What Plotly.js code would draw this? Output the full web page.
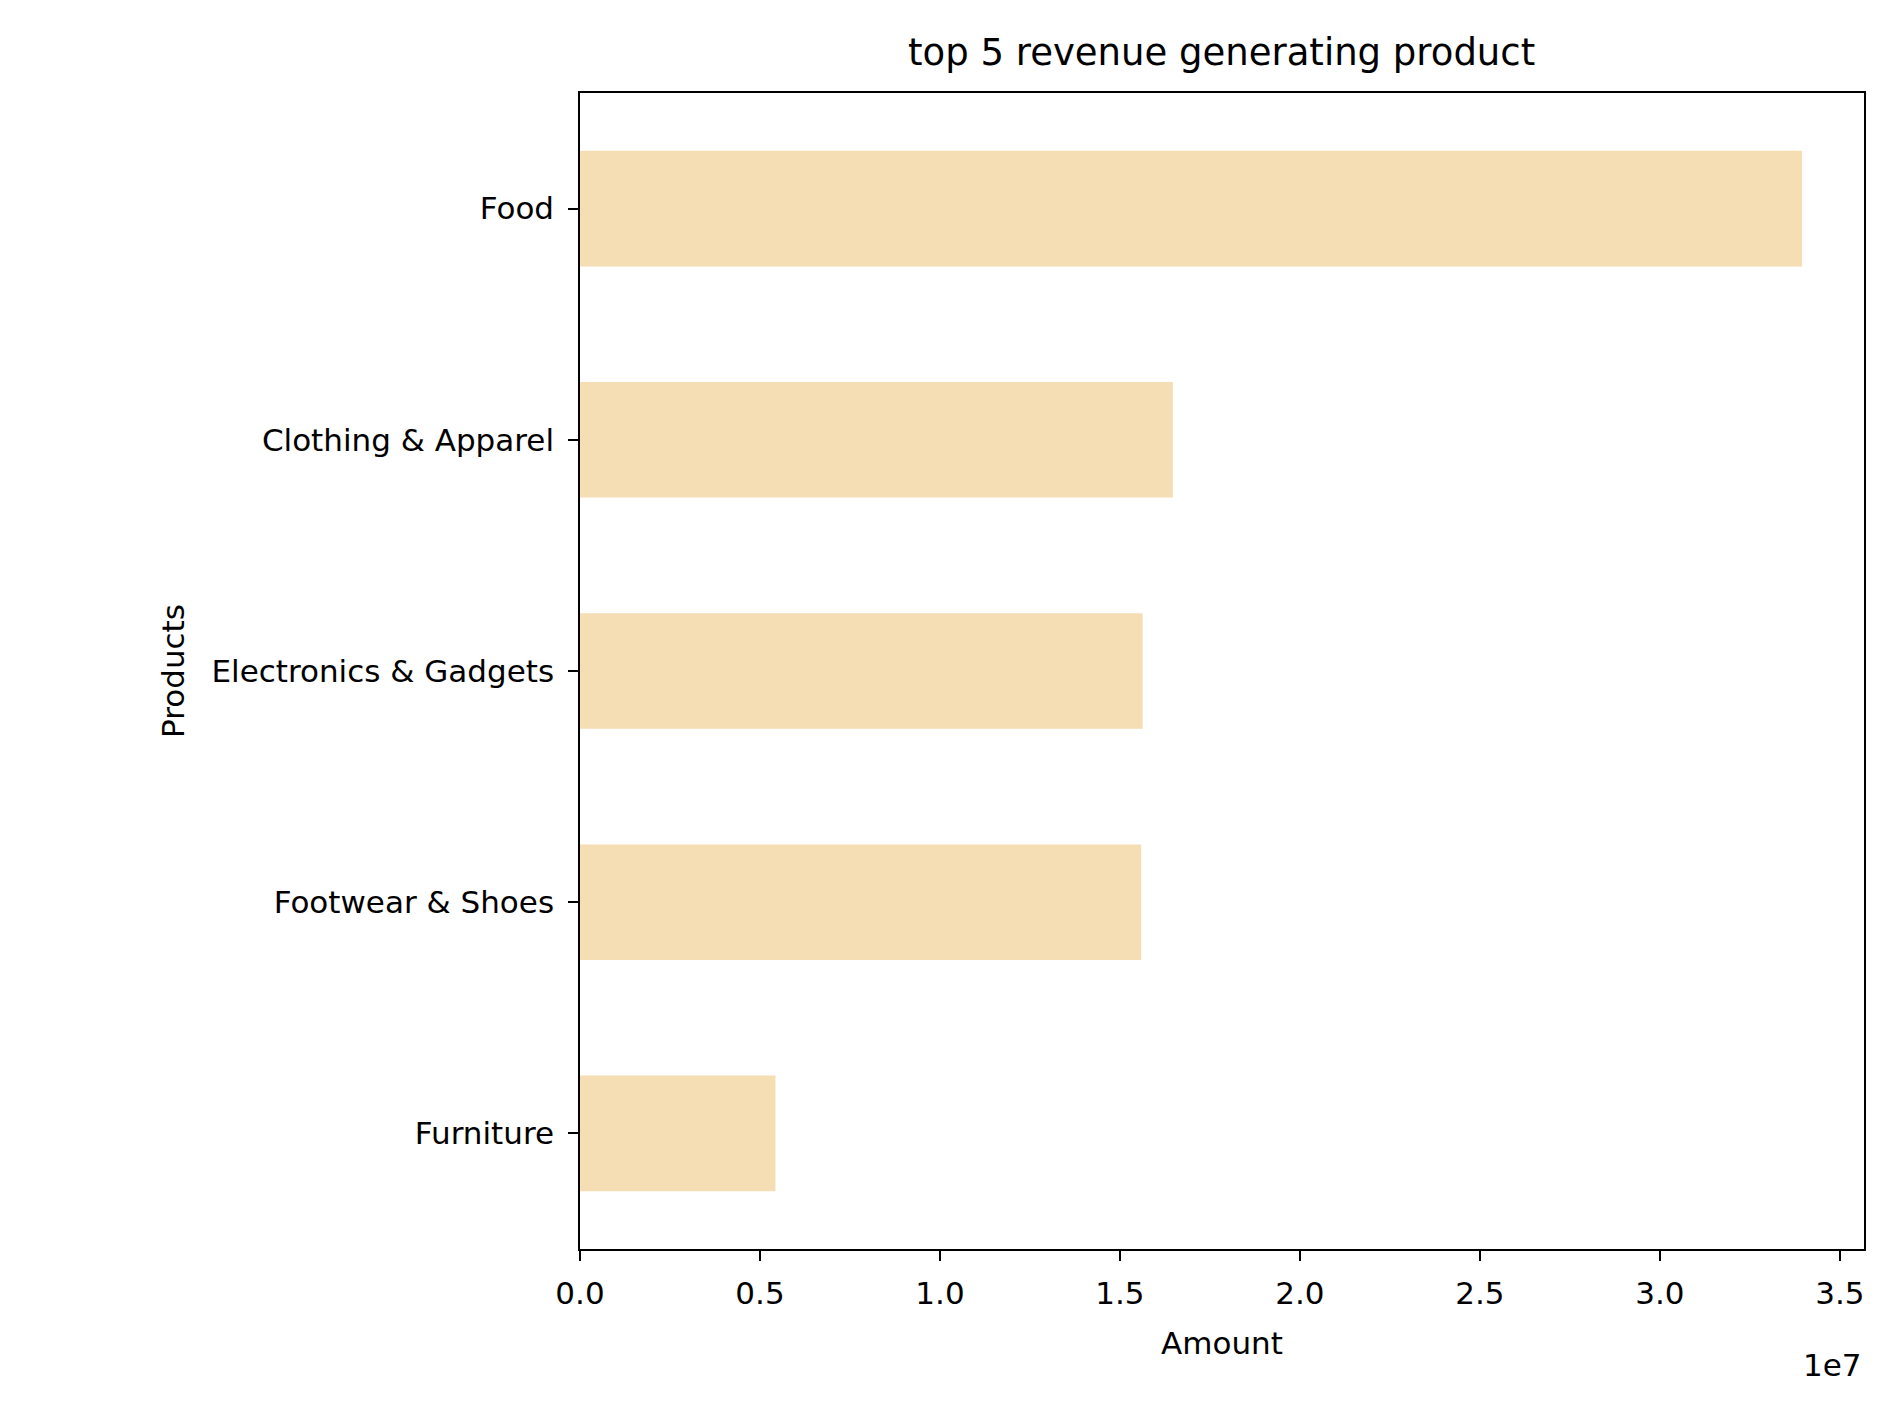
<!DOCTYPE html>
<html>
<head>
<script src="https://cdn.plot.ly/plotly-3.0.1.min.js"></script>
<style>body{margin:0;background:#fff}</style>
</head>
<body>
<div id="chart" style="width:1894px;height:1406px"></div>
<script>
// top 5 products by revenue
var products = ['Furniture', 'Footwear & Shoes', 'Electronics & Gadgets', 'Clothing & Apparel', 'Food'];
var amounts = [5.43e6, 1.559e7, 1.563e7, 1.647e7, 3.395e7];
var tickVals = [0, 0.5e7, 1e7, 1.5e7, 2e7, 2.5e7, 3e7, 3.5e7];
var tickText = ['0.0', '0.5', '1.0', '1.5', '2.0', '2.5', '3.0', '3.5'];

var trace = {
  x: amounts,
  y: products,
  type: 'bar',
  orientation: 'h',
  width: 0.5,
  marker: {color: '#f5deb3'}
};

var axisFont = {family: 'DejaVu Sans', size: 31, color: '#000'};

var layout = {
  width: 1894, height: 1406,
  margin: {l: 580, r: 30, t: 93, b: 157},
  paper_bgcolor: '#fff', plot_bgcolor: '#fff',
  font: axisFont,
  showlegend: false,
  title: {text: 'top 5 revenue generating product', font: {family: 'DejaVu Sans', size: 37, color: '#000'},
          x: 0.645, xanchor: 'center', y: 0.963, yanchor: 'middle'},
  xaxis: {
    range: [0, 3.567e7], tickvals: tickVals, ticktext: tickText,
    ticks: 'outside', ticklen: 10, tickwidth: 1.5, tickcolor: '#000',
    ticklabelstandoff: 6,
    showline: true, linecolor: '#000', linewidth: 1.5, mirror: true,
    showgrid: false, zeroline: false, tickfont: axisFont,
    title: {text: 'Amount', font: axisFont, standoff: 22}
  },
  yaxis: {
    range: [-0.5, 4.5],
    ticks: 'outside', ticklen: 10, tickwidth: 1.5, tickcolor: '#000',
    ticklabelstandoff: 8,
    showline: true, linecolor: '#000', linewidth: 1.5, mirror: true,
    showgrid: false, zeroline: false, tickfont: axisFont,
    title: {text: 'Products', font: axisFont, standoff: 18}
  },
  annotations: [{text: '1e7', xref: 'paper', yref: 'paper', x: 1, y: -0.1,
                 xanchor: 'right', yanchor: 'middle', showarrow: false, font: axisFont}]
};

Plotly.newPlot('chart', [trace], layout, {displayModeBar: false});
</script>
</body>
</html>
